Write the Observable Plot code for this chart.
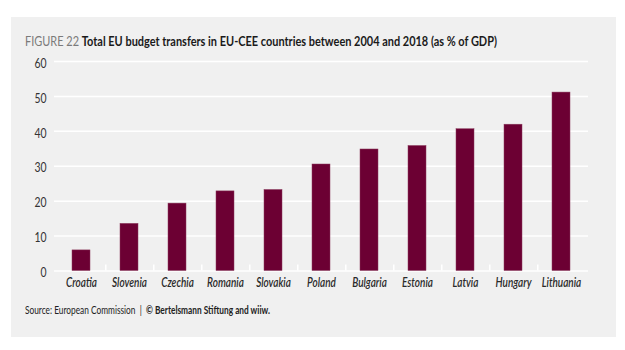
<!DOCTYPE html>
<html>
<head>
<meta charset="utf-8">
<script src="https://cdn.jsdelivr.net/npm/d3@7"></script>
<script src="https://cdn.jsdelivr.net/npm/@observablehq/plot@0.6"></script>
<style>
  html, body { margin: 0; padding: 0; background: #ffffff; width: 625px; height: 350px; overflow: hidden; }
  #panel { position: absolute; left: 11px; top: 17px; width: 605px; height: 320px; background: #f0f0f0; }
  #title { position: absolute; left: 25px; top: 33px; font-family: Lato, sans-serif; font-size: 13px; white-space: nowrap; transform-origin: left top; color: #1a1a1a; }
  #title .fig { color: #7a7a7a; font-weight: 400; }
  #title .main { font-weight: 700; }
  #caption { position: absolute; left: 25px; top: 304px; font-family: Lato, sans-serif; font-size: 10.5px; white-space: nowrap; transform-origin: left top; color: #222; }
  #caption b { font-weight: 700; }
  #chart { position: absolute; left: 0; top: 0; }
</style>
</head>
<body>
<div id="panel"></div>
<div id="title"><span class="fig">FIGURE 22</span>&nbsp;<span class="main">Total EU budget transfers in EU-CEE countries between 2004 and 2018 (as % of GDP)</span></div>
<div id="chart"></div>
<div id="caption">Source: European Commission&nbsp;&nbsp;|&nbsp;&nbsp;<b>© Bertelsmann Stiftung and wiiw.</b></div>
<script>
const countries = ["Croatia","Slovenia","Czechia","Romania","Slovakia","Poland","Bulgaria","Estonia","Latvia","Hungary","Lithuania"];
const values = [5.9, 13.5, 19.3, 22.8, 23.2, 30.5, 34.8, 35.8, 40.6, 41.9, 51.1];
const yTicks = [0, 10, 20, 30, 40, 50, 60];

const data = countries.map((c, i) => ({country: c, value: values[i]}));

const W = 625, H = 300;
const mL = 54, mR = 37, mT = 61, mB = 29.5;
const step = (W - mL - mR) / (countries.length - 0.62 + 2 * 0.31);

const plot = Plot.plot({
  width: W,
  height: H,
  marginLeft: mL,
  marginRight: mR,
  marginTop: mT,
  marginBottom: mB,
  style: {background: "transparent", fontFamily: "Lato, sans-serif", overflow: "visible"},
  x: {domain: countries, paddingInner: 0.62, paddingOuter: 0.31, label: null},
  y: {domain: [0, 60], label: null},
  marks: [
    Plot.gridY(yTicks, {stroke: "#ffffff", strokeOpacity: 1, strokeWidth: 1.5}),
    Plot.axisY(yTicks, {tickSize: 0, tickPadding: 8, fontSize: 13, fill: "#333", dy: 2, label: null}),
    Plot.axisX(countries.slice(0, -1), {tickSize: -6, stroke: "#ffffff", strokeWidth: 1.5, text: null, dx: step / 2, label: null}),
    Plot.barY(data, {x: "country", y: "value", fill: "#6c0033", stroke: "#8a3a5c", strokeWidth: 0.5}),
    Plot.axisX(countries, {tickSize: 0, tickPadding: 7, fontSize: 12.5, fontStyle: "italic", fontWeight: 600, fill: "#2a2a2a", label: null})
  ]
});
document.getElementById("chart").appendChild(plot);

// condense axis label glyphs horizontally, like the reference typeface
plot.querySelectorAll('g[aria-label="x-axis tick label"] text, g[aria-label="y-axis tick label"] text').forEach(t => {
  const w = t.getComputedTextLength();
  t.setAttribute("textLength", (w * 0.8).toFixed(2));
  t.setAttribute("lengthAdjust", "spacingAndGlyphs");
});

function fit(id, target) {
  const el = document.getElementById(id);
  const w = el.getBoundingClientRect().width;
  el.style.transform = `scaleX(${target / w})`;
}
fit("title", 472);
fit("caption", 245);
</script>
</body>
</html>
